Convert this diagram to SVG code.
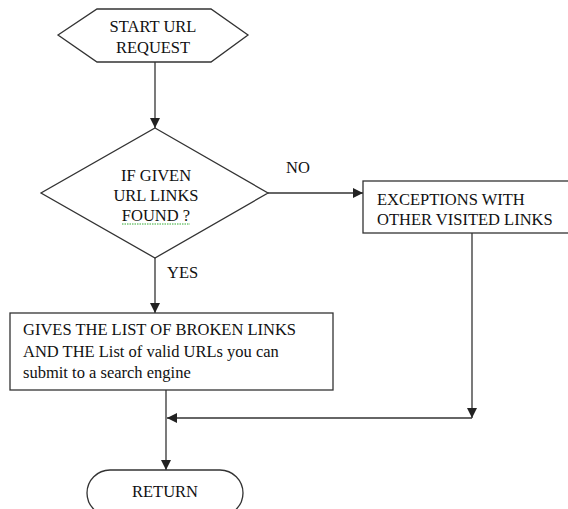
<svg xmlns="http://www.w3.org/2000/svg" width="568" height="509" viewBox="0 0 568 509">
<defs>
<style>
.shape{fill:#fff;stroke:#333;stroke-width:1.3}
.t{font-family:"Liberation Serif","Times New Roman",serif;font-size:16.5px;fill:#111}
.c{text-anchor:middle}
.conn{stroke:#333;stroke-width:1.3;fill:none;marker-end:url(#ah)}
</style>
<marker id="ah" markerUnits="userSpaceOnUse" markerWidth="10" markerHeight="10" refX="10" refY="5" orient="auto" viewBox="0 0 10 10">
<path d="M0,0 L10,5 L0,10 z" fill="#222"/>
</marker>
</defs>
<rect width="568" height="509" fill="#fff"/>
<g id="connectors">
<line class="conn" x1="155" y1="62" x2="155" y2="128"/>
<line class="conn" x1="268" y1="193" x2="363" y2="193"/>
<line class="conn" x1="155" y1="258" x2="155" y2="313"/>
<line class="conn" x1="472" y1="233" x2="472" y2="418"/>
<line class="conn" x1="472" y1="418" x2="167" y2="418"/>
<line class="conn" x1="166" y1="390" x2="166" y2="470"/>
<text class="t" x="286" y="173">NO</text>
<text class="t" x="167" y="278">YES</text>
</g>
<g id="start">
<polygon class="shape" points="58,35 97,9 211,9 248,35 211,62 97,62"/>
<text class="t c" x="153" y="32">START URL</text>
<text class="t c" x="153" y="53">REQUEST</text>
</g>
<g id="decision">
<polygon class="shape" points="155,128 268,193 155,258 41,193"/>
<text class="t c" x="156" y="181">IF GIVEN</text>
<text class="t c" x="156" y="201">URL LINKS</text>
<text class="t c" x="156" y="221">FOUND ?</text>
<line x1="122" y1="224" x2="190" y2="224" stroke="#3a3" stroke-width="1" stroke-dasharray="1.5,1"/>
</g>
<g id="exceptions">
<rect class="shape" x="363" y="181" width="215" height="52"/>
<text class="t" x="377" y="205">EXCEPTIONS WITH</text>
<text class="t" x="377" y="225">OTHER VISITED LINKS</text>
</g>
<g id="broken">
<rect class="shape" x="10" y="313" width="323" height="77"/>
<text class="t" x="23" y="335">GIVES THE LIST OF BROKEN LINKS</text>
<text class="t" x="23" y="357">AND THE List of valid URLs you can</text>
<text class="t" x="23" y="378">submit to a search engine</text>
</g>
<g id="return">
<rect class="shape" x="87" y="470" width="156" height="46" rx="23"/>
<text class="t c" x="165" y="497">RETURN</text>
</g>
</svg>
